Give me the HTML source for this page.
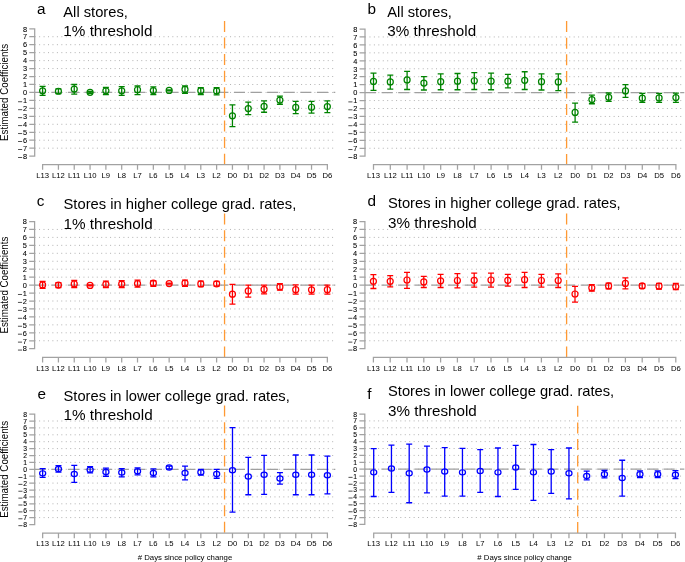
<!DOCTYPE html>
<html><head><meta charset="utf-8"><title>Estimated Coefficients</title>
<style>
html,body{margin:0;padding:0;background:#fff;}
body{width:685px;height:562px;overflow:hidden;}
svg{display:block;will-change:transform;}
text{font-family:"Liberation Sans", sans-serif;fill:#000;}
</style></head><body>
<svg width="685" height="562" viewBox="0 0 685 562">
<rect width="685" height="562" fill="#fff"/>
<path d="M34.7 148.17H335.27M34.7 140.21H335.27M34.7 132.25H335.27M34.7 124.29H335.27M34.7 116.33H335.27M34.7 108.37H335.27M34.7 100.41H335.27M34.7 92.45H335.27M34.7 84.49H335.27M34.7 76.53H335.27M34.7 68.57H335.27M34.7 60.61H335.27M34.7 52.65H335.27M34.7 44.69H335.27M34.7 36.73H335.27" stroke="#b2b2b2" stroke-width="1.0" stroke-dasharray="1.0 3.44" fill="none"/>
<path d="M34.7 92.45H335.27" stroke="#a0a0a0" stroke-width="1.3" stroke-dasharray="11.1 5.5" fill="none"/>
<path d="M224.55 20.9V164.5" stroke="#ff9933" stroke-width="1.3" stroke-dasharray="11.0 5.6" fill="none"/>
<path d="M34.7 28.77V156.13M29.9 156.13H34.7M29.9 148.17H34.7M29.9 140.21H34.7M29.9 132.25H34.7M29.9 124.29H34.7M29.9 116.33H34.7M29.9 108.37H34.7M29.9 100.41H34.7M29.9 92.45H34.7M29.9 84.49H34.7M29.9 76.53H34.7M29.9 68.57H34.7M29.9 60.61H34.7M29.9 52.65H34.7M29.9 44.69H34.7M29.9 36.73H34.7M29.9 28.77H34.7" stroke="#a2a2a2" stroke-width="1.25" fill="none" stroke-linecap="square"/>
<text transform="translate(27 158.89) scale(1 1.05)" font-size="7.4" text-anchor="end" stroke="#000" stroke-width="0.08">8</text>
<rect x="18.04" y="157.06" width="4.1" height="0.85" fill="#333"/>
<text transform="translate(27 150.93) scale(1 1.05)" font-size="7.4" text-anchor="end" stroke="#000" stroke-width="0.08">7</text>
<rect x="18.04" y="149.1" width="4.1" height="0.85" fill="#333"/>
<text transform="translate(27 142.97) scale(1 1.05)" font-size="7.4" text-anchor="end" stroke="#000" stroke-width="0.08">6</text>
<rect x="18.04" y="141.14" width="4.1" height="0.85" fill="#333"/>
<text transform="translate(27 135.01) scale(1 1.05)" font-size="7.4" text-anchor="end" stroke="#000" stroke-width="0.08">5</text>
<rect x="18.04" y="133.18" width="4.1" height="0.85" fill="#333"/>
<text transform="translate(27 127.05) scale(1 1.05)" font-size="7.4" text-anchor="end" stroke="#000" stroke-width="0.08">4</text>
<rect x="18.04" y="125.22" width="4.1" height="0.85" fill="#333"/>
<text transform="translate(27 119.09) scale(1 1.05)" font-size="7.4" text-anchor="end" stroke="#000" stroke-width="0.08">3</text>
<rect x="18.04" y="117.26" width="4.1" height="0.85" fill="#333"/>
<text transform="translate(27 111.13) scale(1 1.05)" font-size="7.4" text-anchor="end" stroke="#000" stroke-width="0.08">2</text>
<rect x="18.04" y="109.3" width="4.1" height="0.85" fill="#333"/>
<text transform="translate(27 103.17) scale(1 1.05)" font-size="7.4" text-anchor="end" stroke="#000" stroke-width="0.08">1</text>
<rect x="18.04" y="101.34" width="4.1" height="0.85" fill="#333"/>
<text transform="translate(27 95.21) scale(1 1.05)" font-size="7.4" text-anchor="end" stroke="#000" stroke-width="0.08">0</text>
<text transform="translate(27 87.25) scale(1 1.05)" font-size="7.4" text-anchor="end" stroke="#000" stroke-width="0.08">1</text>
<text transform="translate(27 79.29) scale(1 1.05)" font-size="7.4" text-anchor="end" stroke="#000" stroke-width="0.08">2</text>
<text transform="translate(27 71.33) scale(1 1.05)" font-size="7.4" text-anchor="end" stroke="#000" stroke-width="0.08">3</text>
<text transform="translate(27 63.37) scale(1 1.05)" font-size="7.4" text-anchor="end" stroke="#000" stroke-width="0.08">4</text>
<text transform="translate(27 55.41) scale(1 1.05)" font-size="7.4" text-anchor="end" stroke="#000" stroke-width="0.08">5</text>
<text transform="translate(27 47.45) scale(1 1.05)" font-size="7.4" text-anchor="end" stroke="#000" stroke-width="0.08">6</text>
<text transform="translate(27 39.49) scale(1 1.05)" font-size="7.4" text-anchor="end" stroke="#000" stroke-width="0.08">7</text>
<text transform="translate(27 31.53) scale(1 1.05)" font-size="7.4" text-anchor="end" stroke="#000" stroke-width="0.08">8</text>
<path d="M42.6 164.5H327.36M42.6 164.5V169M58.42 164.5V169M74.24 164.5V169M90.06 164.5V169M105.88 164.5V169M121.7 164.5V169M137.52 164.5V169M153.34 164.5V169M169.16 164.5V169M184.98 164.5V169M200.8 164.5V169M216.62 164.5V169M232.44 164.5V169M248.26 164.5V169M264.08 164.5V169M279.9 164.5V169M295.72 164.5V169M311.54 164.5V169M327.36 164.5V169" stroke="#a2a2a2" stroke-width="1.25" fill="none" stroke-linecap="square"/>
<text x="42.6" y="178.2" font-size="7.7" text-anchor="middle">L13</text>
<text x="58.42" y="178.2" font-size="7.7" text-anchor="middle">L12</text>
<text x="74.24" y="178.2" font-size="7.7" text-anchor="middle">L11</text>
<text x="90.06" y="178.2" font-size="7.7" text-anchor="middle">L10</text>
<text x="105.88" y="178.2" font-size="7.7" text-anchor="middle">L9</text>
<text x="121.7" y="178.2" font-size="7.7" text-anchor="middle">L8</text>
<text x="137.52" y="178.2" font-size="7.7" text-anchor="middle">L7</text>
<text x="153.34" y="178.2" font-size="7.7" text-anchor="middle">L6</text>
<text x="169.16" y="178.2" font-size="7.7" text-anchor="middle">L5</text>
<text x="184.98" y="178.2" font-size="7.7" text-anchor="middle">L4</text>
<text x="200.8" y="178.2" font-size="7.7" text-anchor="middle">L3</text>
<text x="216.62" y="178.2" font-size="7.7" text-anchor="middle">L2</text>
<text x="232.44" y="178.2" font-size="7.7" text-anchor="middle">D0</text>
<text x="248.26" y="178.2" font-size="7.7" text-anchor="middle">D1</text>
<text x="264.08" y="178.2" font-size="7.7" text-anchor="middle">D2</text>
<text x="279.9" y="178.2" font-size="7.7" text-anchor="middle">D3</text>
<text x="295.72" y="178.2" font-size="7.7" text-anchor="middle">D4</text>
<text x="311.54" y="178.2" font-size="7.7" text-anchor="middle">D5</text>
<text x="327.36" y="178.2" font-size="7.7" text-anchor="middle">D6</text>
<ellipse cx="42.6" cy="90.86" rx="3" ry="3" fill="none" stroke="#008300" stroke-width="1.22"/>
<path d="M42.6 86.4V95.47M39.6 86.4H45.6M39.6 95.47H45.6" stroke="#008300" stroke-width="1.3" fill="none"/>
<ellipse cx="58.42" cy="91.26" rx="3" ry="3" fill="none" stroke="#008300" stroke-width="1.22"/>
<path d="M58.42 88.87V93.64M55.42 88.87H61.42M55.42 93.64H61.42" stroke="#008300" stroke-width="1.3" fill="none"/>
<ellipse cx="74.24" cy="89.03" rx="3" ry="3" fill="none" stroke="#008300" stroke-width="1.22"/>
<path d="M74.24 84.49V94.04M71.24 84.49H77.24M71.24 94.04H77.24" stroke="#008300" stroke-width="1.3" fill="none"/>
<ellipse cx="90.06" cy="92.37" rx="3" ry="3" fill="none" stroke="#008300" stroke-width="1.22"/>
<path d="M90.06 91.49V93.25M87.06 91.49H93.06M87.06 93.25H93.06" stroke="#008300" stroke-width="1.3" fill="none"/>
<ellipse cx="105.88" cy="90.86" rx="3" ry="3" fill="none" stroke="#008300" stroke-width="1.22"/>
<path d="M105.88 87.36V94.6M102.88 87.36H108.88M102.88 94.6H108.88" stroke="#008300" stroke-width="1.3" fill="none"/>
<ellipse cx="121.7" cy="90.86" rx="3" ry="3" fill="none" stroke="#008300" stroke-width="1.22"/>
<path d="M121.7 86.64V95.4M118.7 86.64H124.7M118.7 95.4H124.7" stroke="#008300" stroke-width="1.3" fill="none"/>
<ellipse cx="137.52" cy="89.74" rx="3" ry="3" fill="none" stroke="#008300" stroke-width="1.22"/>
<path d="M137.52 86V94.6M134.52 86H140.52M134.52 94.6H140.52" stroke="#008300" stroke-width="1.3" fill="none"/>
<ellipse cx="153.34" cy="90.54" rx="3" ry="3" fill="none" stroke="#008300" stroke-width="1.22"/>
<path d="M153.34 86.88V94.52M150.34 86.88H156.34M150.34 94.52H156.34" stroke="#008300" stroke-width="1.3" fill="none"/>
<ellipse cx="169.16" cy="90.38" rx="3" ry="3" fill="none" stroke="#008300" stroke-width="1.22"/>
<path d="M169.16 89.98V90.78M166.16 89.98H172.16M166.16 90.78H172.16" stroke="#008300" stroke-width="1.3" fill="none"/>
<ellipse cx="184.98" cy="89.43" rx="3" ry="3" fill="none" stroke="#008300" stroke-width="1.22"/>
<path d="M184.98 86V93.25M181.98 86H187.98M181.98 93.25H187.98" stroke="#008300" stroke-width="1.3" fill="none"/>
<ellipse cx="200.8" cy="90.7" rx="3" ry="3" fill="none" stroke="#008300" stroke-width="1.22"/>
<path d="M200.8 87.75V94.52M197.8 87.75H203.8M197.8 94.52H203.8" stroke="#008300" stroke-width="1.3" fill="none"/>
<ellipse cx="216.62" cy="90.94" rx="3" ry="3" fill="none" stroke="#008300" stroke-width="1.22"/>
<path d="M216.62 87.75V94.84M213.62 87.75H219.62M213.62 94.84H219.62" stroke="#008300" stroke-width="1.3" fill="none"/>
<ellipse cx="232.44" cy="115.77" rx="3" ry="3" fill="none" stroke="#008300" stroke-width="1.22"/>
<path d="M232.44 104.87V126.68M229.44 104.87H235.44M229.44 126.68H235.44" stroke="#008300" stroke-width="1.3" fill="none"/>
<ellipse cx="248.26" cy="108.53" rx="3" ry="3" fill="none" stroke="#008300" stroke-width="1.22"/>
<path d="M248.26 102.16V114.66M245.26 102.16H251.26M245.26 114.66H251.26" stroke="#008300" stroke-width="1.3" fill="none"/>
<ellipse cx="264.08" cy="106.46" rx="3" ry="3" fill="none" stroke="#008300" stroke-width="1.22"/>
<path d="M264.08 100.81V112.27M261.08 100.81H267.08M261.08 112.27H267.08" stroke="#008300" stroke-width="1.3" fill="none"/>
<ellipse cx="279.9" cy="100.09" rx="3" ry="3" fill="none" stroke="#008300" stroke-width="1.22"/>
<path d="M279.9 96.11V104.23M276.9 96.11H282.9M276.9 104.23H282.9" stroke="#008300" stroke-width="1.3" fill="none"/>
<ellipse cx="295.72" cy="107.41" rx="3" ry="3" fill="none" stroke="#008300" stroke-width="1.22"/>
<path d="M295.72 101.29V113.62M292.72 101.29H298.72M292.72 113.62H298.72" stroke="#008300" stroke-width="1.3" fill="none"/>
<ellipse cx="311.54" cy="107.26" rx="3" ry="3" fill="none" stroke="#008300" stroke-width="1.22"/>
<path d="M311.54 101.29V113.07M308.54 101.29H314.54M308.54 113.07H314.54" stroke="#008300" stroke-width="1.3" fill="none"/>
<ellipse cx="327.36" cy="106.62" rx="3" ry="3" fill="none" stroke="#008300" stroke-width="1.22"/>
<path d="M327.36 100.89V112.59M324.36 100.89H330.36M324.36 112.59H330.36" stroke="#008300" stroke-width="1.3" fill="none"/>
<text x="37" y="13.9" font-size="15.3">a</text>
<text x="63.3" y="16.7" font-size="15.0" textLength="64.6" lengthAdjust="spacingAndGlyphs">All stores,</text>
<text x="63.3" y="35.7" font-size="15.0" textLength="89.2" lengthAdjust="spacingAndGlyphs">1% threshold</text>
<text transform="translate(8.2 92.45) rotate(-90)" font-size="10" text-anchor="middle" textLength="97" lengthAdjust="spacingAndGlyphs">Estimated Coefficients</text>
<path d="M365 148.25H684.3M365 140.3H684.3M365 132.35H684.3M365 124.4H684.3M365 116.45H684.3M365 108.5H684.3M365 100.55H684.3M365 92.6H684.3M365 84.65H684.3M365 76.7H684.3M365 68.75H684.3M365 60.8H684.3M365 52.85H684.3M365 44.9H684.3M365 36.95H684.3" stroke="#b2b2b2" stroke-width="1.0" stroke-dasharray="1.0 3.44" fill="none"/>
<path d="M365 92.6H684.3" stroke="#a0a0a0" stroke-width="1.3" stroke-dasharray="11.1 5.5" fill="none"/>
<path d="M566.6 21.1V164.7" stroke="#ff9933" stroke-width="1.3" stroke-dasharray="11.0 5.6" fill="none"/>
<path d="M365 29V156.2M360.2 156.2H365M360.2 148.25H365M360.2 140.3H365M360.2 132.35H365M360.2 124.4H365M360.2 116.45H365M360.2 108.5H365M360.2 100.55H365M360.2 92.6H365M360.2 84.65H365M360.2 76.7H365M360.2 68.75H365M360.2 60.8H365M360.2 52.85H365M360.2 44.9H365M360.2 36.95H365M360.2 29H365" stroke="#a2a2a2" stroke-width="1.25" fill="none" stroke-linecap="square"/>
<text transform="translate(357.3 158.96) scale(1 1.05)" font-size="7.4" text-anchor="end" stroke="#000" stroke-width="0.08">8</text>
<rect x="348.34" y="157.13" width="4.1" height="0.85" fill="#333"/>
<text transform="translate(357.3 151.01) scale(1 1.05)" font-size="7.4" text-anchor="end" stroke="#000" stroke-width="0.08">7</text>
<rect x="348.34" y="149.18" width="4.1" height="0.85" fill="#333"/>
<text transform="translate(357.3 143.06) scale(1 1.05)" font-size="7.4" text-anchor="end" stroke="#000" stroke-width="0.08">6</text>
<rect x="348.34" y="141.23" width="4.1" height="0.85" fill="#333"/>
<text transform="translate(357.3 135.11) scale(1 1.05)" font-size="7.4" text-anchor="end" stroke="#000" stroke-width="0.08">5</text>
<rect x="348.34" y="133.28" width="4.1" height="0.85" fill="#333"/>
<text transform="translate(357.3 127.16) scale(1 1.05)" font-size="7.4" text-anchor="end" stroke="#000" stroke-width="0.08">4</text>
<rect x="348.34" y="125.33" width="4.1" height="0.85" fill="#333"/>
<text transform="translate(357.3 119.21) scale(1 1.05)" font-size="7.4" text-anchor="end" stroke="#000" stroke-width="0.08">3</text>
<rect x="348.34" y="117.38" width="4.1" height="0.85" fill="#333"/>
<text transform="translate(357.3 111.26) scale(1 1.05)" font-size="7.4" text-anchor="end" stroke="#000" stroke-width="0.08">2</text>
<rect x="348.34" y="109.43" width="4.1" height="0.85" fill="#333"/>
<text transform="translate(357.3 103.31) scale(1 1.05)" font-size="7.4" text-anchor="end" stroke="#000" stroke-width="0.08">1</text>
<rect x="348.34" y="101.48" width="4.1" height="0.85" fill="#333"/>
<text transform="translate(357.3 95.36) scale(1 1.05)" font-size="7.4" text-anchor="end" stroke="#000" stroke-width="0.08">0</text>
<text transform="translate(357.3 87.41) scale(1 1.05)" font-size="7.4" text-anchor="end" stroke="#000" stroke-width="0.08">1</text>
<text transform="translate(357.3 79.46) scale(1 1.05)" font-size="7.4" text-anchor="end" stroke="#000" stroke-width="0.08">2</text>
<text transform="translate(357.3 71.51) scale(1 1.05)" font-size="7.4" text-anchor="end" stroke="#000" stroke-width="0.08">3</text>
<text transform="translate(357.3 63.56) scale(1 1.05)" font-size="7.4" text-anchor="end" stroke="#000" stroke-width="0.08">4</text>
<text transform="translate(357.3 55.61) scale(1 1.05)" font-size="7.4" text-anchor="end" stroke="#000" stroke-width="0.08">5</text>
<text transform="translate(357.3 47.66) scale(1 1.05)" font-size="7.4" text-anchor="end" stroke="#000" stroke-width="0.08">6</text>
<text transform="translate(357.3 39.71) scale(1 1.05)" font-size="7.4" text-anchor="end" stroke="#000" stroke-width="0.08">7</text>
<text transform="translate(357.3 31.76) scale(1 1.05)" font-size="7.4" text-anchor="end" stroke="#000" stroke-width="0.08">8</text>
<path d="M373.5 164.7H675.9M373.5 164.7V169.2M390.3 164.7V169.2M407.1 164.7V169.2M423.9 164.7V169.2M440.7 164.7V169.2M457.5 164.7V169.2M474.3 164.7V169.2M491.1 164.7V169.2M507.9 164.7V169.2M524.7 164.7V169.2M541.5 164.7V169.2M558.3 164.7V169.2M575.1 164.7V169.2M591.9 164.7V169.2M608.7 164.7V169.2M625.5 164.7V169.2M642.3 164.7V169.2M659.1 164.7V169.2M675.9 164.7V169.2" stroke="#a2a2a2" stroke-width="1.25" fill="none" stroke-linecap="square"/>
<text x="373.5" y="178.4" font-size="7.7" text-anchor="middle">L13</text>
<text x="390.3" y="178.4" font-size="7.7" text-anchor="middle">L12</text>
<text x="407.1" y="178.4" font-size="7.7" text-anchor="middle">L11</text>
<text x="423.9" y="178.4" font-size="7.7" text-anchor="middle">L10</text>
<text x="440.7" y="178.4" font-size="7.7" text-anchor="middle">L9</text>
<text x="457.5" y="178.4" font-size="7.7" text-anchor="middle">L8</text>
<text x="474.3" y="178.4" font-size="7.7" text-anchor="middle">L7</text>
<text x="491.1" y="178.4" font-size="7.7" text-anchor="middle">L6</text>
<text x="507.9" y="178.4" font-size="7.7" text-anchor="middle">L5</text>
<text x="524.7" y="178.4" font-size="7.7" text-anchor="middle">L4</text>
<text x="541.5" y="178.4" font-size="7.7" text-anchor="middle">L3</text>
<text x="558.3" y="178.4" font-size="7.7" text-anchor="middle">L2</text>
<text x="575.1" y="178.4" font-size="7.7" text-anchor="middle">D0</text>
<text x="591.9" y="178.4" font-size="7.7" text-anchor="middle">D1</text>
<text x="608.7" y="178.4" font-size="7.7" text-anchor="middle">D2</text>
<text x="625.5" y="178.4" font-size="7.7" text-anchor="middle">D3</text>
<text x="642.3" y="178.4" font-size="7.7" text-anchor="middle">D4</text>
<text x="659.1" y="178.4" font-size="7.7" text-anchor="middle">D5</text>
<text x="675.9" y="178.4" font-size="7.7" text-anchor="middle">D6</text>
<ellipse cx="373.5" cy="81.47" rx="3" ry="3" fill="none" stroke="#008300" stroke-width="1.22"/>
<path d="M373.5 73.04V90.29M370.5 73.04H376.5M370.5 90.29H376.5" stroke="#008300" stroke-width="1.3" fill="none"/>
<ellipse cx="390.3" cy="81.95" rx="3" ry="3" fill="none" stroke="#008300" stroke-width="1.22"/>
<path d="M390.3 75.19V89.18M387.3 75.19H393.3M387.3 89.18H393.3" stroke="#008300" stroke-width="1.3" fill="none"/>
<ellipse cx="407.1" cy="79.96" rx="3" ry="3" fill="none" stroke="#008300" stroke-width="1.22"/>
<path d="M407.1 71.45V89.5M404.1 71.45H410.1M404.1 89.5H410.1" stroke="#008300" stroke-width="1.3" fill="none"/>
<ellipse cx="423.9" cy="83.06" rx="3" ry="3" fill="none" stroke="#008300" stroke-width="1.22"/>
<path d="M423.9 76.7V89.98M420.9 76.7H426.9M420.9 89.98H426.9" stroke="#008300" stroke-width="1.3" fill="none"/>
<ellipse cx="440.7" cy="81.63" rx="3" ry="3" fill="none" stroke="#008300" stroke-width="1.22"/>
<path d="M440.7 73.92V89.74M437.7 73.92H443.7M437.7 89.74H443.7" stroke="#008300" stroke-width="1.3" fill="none"/>
<ellipse cx="457.5" cy="81.15" rx="3" ry="3" fill="none" stroke="#008300" stroke-width="1.22"/>
<path d="M457.5 73.52V89.74M454.5 73.52H460.5M454.5 89.74H460.5" stroke="#008300" stroke-width="1.3" fill="none"/>
<ellipse cx="474.3" cy="80.75" rx="3" ry="3" fill="none" stroke="#008300" stroke-width="1.22"/>
<path d="M474.3 72.57V89.5M471.3 72.57H477.3M471.3 89.5H477.3" stroke="#008300" stroke-width="1.3" fill="none"/>
<ellipse cx="491.1" cy="81.15" rx="3" ry="3" fill="none" stroke="#008300" stroke-width="1.22"/>
<path d="M491.1 73.04V89.74M488.1 73.04H494.1M488.1 89.74H494.1" stroke="#008300" stroke-width="1.3" fill="none"/>
<ellipse cx="507.9" cy="81.15" rx="3" ry="3" fill="none" stroke="#008300" stroke-width="1.22"/>
<path d="M507.9 74.39V87.91M504.9 74.39H510.9M504.9 87.91H510.9" stroke="#008300" stroke-width="1.3" fill="none"/>
<ellipse cx="524.7" cy="80.36" rx="3" ry="3" fill="none" stroke="#008300" stroke-width="1.22"/>
<path d="M524.7 71.77V89.5M521.7 71.77H527.7M521.7 89.5H527.7" stroke="#008300" stroke-width="1.3" fill="none"/>
<ellipse cx="541.5" cy="81.63" rx="3" ry="3" fill="none" stroke="#008300" stroke-width="1.22"/>
<path d="M541.5 73.92V89.98M538.5 73.92H544.5M538.5 89.98H544.5" stroke="#008300" stroke-width="1.3" fill="none"/>
<ellipse cx="558.3" cy="81.95" rx="3" ry="3" fill="none" stroke="#008300" stroke-width="1.22"/>
<path d="M558.3 73.92V90.53M555.3 73.92H561.3M555.3 90.53H561.3" stroke="#008300" stroke-width="1.3" fill="none"/>
<ellipse cx="575.1" cy="112.47" rx="3" ry="3" fill="none" stroke="#008300" stroke-width="1.22"/>
<path d="M575.1 103.09V122.17M572.1 103.09H578.1M572.1 122.17H578.1" stroke="#008300" stroke-width="1.3" fill="none"/>
<ellipse cx="591.9" cy="99.6" rx="3" ry="3" fill="none" stroke="#008300" stroke-width="1.22"/>
<path d="M591.9 95.22V103.73M588.9 95.22H594.9M588.9 103.73H594.9" stroke="#008300" stroke-width="1.3" fill="none"/>
<ellipse cx="608.7" cy="97.29" rx="3" ry="3" fill="none" stroke="#008300" stroke-width="1.22"/>
<path d="M608.7 93V101.42M605.7 93H611.7M605.7 101.42H611.7" stroke="#008300" stroke-width="1.3" fill="none"/>
<ellipse cx="625.5" cy="90.93" rx="3" ry="3" fill="none" stroke="#008300" stroke-width="1.22"/>
<path d="M625.5 84.65V97.29M622.5 84.65H628.5M622.5 97.29H628.5" stroke="#008300" stroke-width="1.3" fill="none"/>
<ellipse cx="642.3" cy="98.16" rx="3" ry="3" fill="none" stroke="#008300" stroke-width="1.22"/>
<path d="M642.3 93.47V102.3M639.3 93.47H645.3M639.3 102.3H645.3" stroke="#008300" stroke-width="1.3" fill="none"/>
<ellipse cx="659.1" cy="97.93" rx="3" ry="3" fill="none" stroke="#008300" stroke-width="1.22"/>
<path d="M659.1 93.47V102.3M656.1 93.47H662.1M656.1 102.3H662.1" stroke="#008300" stroke-width="1.3" fill="none"/>
<ellipse cx="675.9" cy="97.53" rx="3" ry="3" fill="none" stroke="#008300" stroke-width="1.22"/>
<path d="M675.9 93.08V102.3M672.9 93.08H678.9M672.9 102.3H678.9" stroke="#008300" stroke-width="1.3" fill="none"/>
<text x="367.5" y="14" font-size="15.3">b</text>
<text x="387.3" y="16.6" font-size="15.0" textLength="64.6" lengthAdjust="spacingAndGlyphs">All stores,</text>
<text x="387.3" y="35.7" font-size="15.0" textLength="88.8" lengthAdjust="spacingAndGlyphs">3% threshold</text>
<path d="M34.6 340.75H335.27M34.6 332.8H335.27M34.6 324.85H335.27M34.6 316.9H335.27M34.6 308.95H335.27M34.6 301H335.27M34.6 293.05H335.27M34.6 285.1H335.27M34.6 277.15H335.27M34.6 269.2H335.27M34.6 261.25H335.27M34.6 253.3H335.27M34.6 245.35H335.27M34.6 237.4H335.27M34.6 229.45H335.27" stroke="#b2b2b2" stroke-width="1.0" stroke-dasharray="1.0 3.44" fill="none"/>
<path d="M34.6 285.1H335.27" stroke="#a0a0a0" stroke-width="1.3" stroke-dasharray="11.1 5.5" fill="none"/>
<path d="M224.55 213.6V357.4" stroke="#ff9933" stroke-width="1.3" stroke-dasharray="11.0 5.6" fill="none"/>
<path d="M34.6 221.5V348.7M29.8 348.7H34.6M29.8 340.75H34.6M29.8 332.8H34.6M29.8 324.85H34.6M29.8 316.9H34.6M29.8 308.95H34.6M29.8 301H34.6M29.8 293.05H34.6M29.8 285.1H34.6M29.8 277.15H34.6M29.8 269.2H34.6M29.8 261.25H34.6M29.8 253.3H34.6M29.8 245.35H34.6M29.8 237.4H34.6M29.8 229.45H34.6M29.8 221.5H34.6" stroke="#a2a2a2" stroke-width="1.25" fill="none" stroke-linecap="square"/>
<text transform="translate(26.9 351.46) scale(1 1.05)" font-size="7.4" text-anchor="end" stroke="#000" stroke-width="0.08">8</text>
<rect x="17.94" y="349.63" width="4.1" height="0.85" fill="#333"/>
<text transform="translate(26.9 343.51) scale(1 1.05)" font-size="7.4" text-anchor="end" stroke="#000" stroke-width="0.08">7</text>
<rect x="17.94" y="341.68" width="4.1" height="0.85" fill="#333"/>
<text transform="translate(26.9 335.56) scale(1 1.05)" font-size="7.4" text-anchor="end" stroke="#000" stroke-width="0.08">6</text>
<rect x="17.94" y="333.73" width="4.1" height="0.85" fill="#333"/>
<text transform="translate(26.9 327.61) scale(1 1.05)" font-size="7.4" text-anchor="end" stroke="#000" stroke-width="0.08">5</text>
<rect x="17.94" y="325.78" width="4.1" height="0.85" fill="#333"/>
<text transform="translate(26.9 319.66) scale(1 1.05)" font-size="7.4" text-anchor="end" stroke="#000" stroke-width="0.08">4</text>
<rect x="17.94" y="317.83" width="4.1" height="0.85" fill="#333"/>
<text transform="translate(26.9 311.71) scale(1 1.05)" font-size="7.4" text-anchor="end" stroke="#000" stroke-width="0.08">3</text>
<rect x="17.94" y="309.88" width="4.1" height="0.85" fill="#333"/>
<text transform="translate(26.9 303.76) scale(1 1.05)" font-size="7.4" text-anchor="end" stroke="#000" stroke-width="0.08">2</text>
<rect x="17.94" y="301.93" width="4.1" height="0.85" fill="#333"/>
<text transform="translate(26.9 295.81) scale(1 1.05)" font-size="7.4" text-anchor="end" stroke="#000" stroke-width="0.08">1</text>
<rect x="17.94" y="293.98" width="4.1" height="0.85" fill="#333"/>
<text transform="translate(26.9 287.86) scale(1 1.05)" font-size="7.4" text-anchor="end" stroke="#000" stroke-width="0.08">0</text>
<text transform="translate(26.9 279.91) scale(1 1.05)" font-size="7.4" text-anchor="end" stroke="#000" stroke-width="0.08">1</text>
<text transform="translate(26.9 271.96) scale(1 1.05)" font-size="7.4" text-anchor="end" stroke="#000" stroke-width="0.08">2</text>
<text transform="translate(26.9 264.01) scale(1 1.05)" font-size="7.4" text-anchor="end" stroke="#000" stroke-width="0.08">3</text>
<text transform="translate(26.9 256.06) scale(1 1.05)" font-size="7.4" text-anchor="end" stroke="#000" stroke-width="0.08">4</text>
<text transform="translate(26.9 248.11) scale(1 1.05)" font-size="7.4" text-anchor="end" stroke="#000" stroke-width="0.08">5</text>
<text transform="translate(26.9 240.16) scale(1 1.05)" font-size="7.4" text-anchor="end" stroke="#000" stroke-width="0.08">6</text>
<text transform="translate(26.9 232.21) scale(1 1.05)" font-size="7.4" text-anchor="end" stroke="#000" stroke-width="0.08">7</text>
<text transform="translate(26.9 224.26) scale(1 1.05)" font-size="7.4" text-anchor="end" stroke="#000" stroke-width="0.08">8</text>
<path d="M42.6 357.4H327.36M42.6 357.4V361.9M58.42 357.4V361.9M74.24 357.4V361.9M90.06 357.4V361.9M105.88 357.4V361.9M121.7 357.4V361.9M137.52 357.4V361.9M153.34 357.4V361.9M169.16 357.4V361.9M184.98 357.4V361.9M200.8 357.4V361.9M216.62 357.4V361.9M232.44 357.4V361.9M248.26 357.4V361.9M264.08 357.4V361.9M279.9 357.4V361.9M295.72 357.4V361.9M311.54 357.4V361.9M327.36 357.4V361.9" stroke="#a2a2a2" stroke-width="1.25" fill="none" stroke-linecap="square"/>
<text x="42.6" y="370.6" font-size="7.7" text-anchor="middle">L13</text>
<text x="58.42" y="370.6" font-size="7.7" text-anchor="middle">L12</text>
<text x="74.24" y="370.6" font-size="7.7" text-anchor="middle">L11</text>
<text x="90.06" y="370.6" font-size="7.7" text-anchor="middle">L10</text>
<text x="105.88" y="370.6" font-size="7.7" text-anchor="middle">L9</text>
<text x="121.7" y="370.6" font-size="7.7" text-anchor="middle">L8</text>
<text x="137.52" y="370.6" font-size="7.7" text-anchor="middle">L7</text>
<text x="153.34" y="370.6" font-size="7.7" text-anchor="middle">L6</text>
<text x="169.16" y="370.6" font-size="7.7" text-anchor="middle">L5</text>
<text x="184.98" y="370.6" font-size="7.7" text-anchor="middle">L4</text>
<text x="200.8" y="370.6" font-size="7.7" text-anchor="middle">L3</text>
<text x="216.62" y="370.6" font-size="7.7" text-anchor="middle">L2</text>
<text x="232.44" y="370.6" font-size="7.7" text-anchor="middle">D0</text>
<text x="248.26" y="370.6" font-size="7.7" text-anchor="middle">D1</text>
<text x="264.08" y="370.6" font-size="7.7" text-anchor="middle">D2</text>
<text x="279.9" y="370.6" font-size="7.7" text-anchor="middle">D3</text>
<text x="295.72" y="370.6" font-size="7.7" text-anchor="middle">D4</text>
<text x="311.54" y="370.6" font-size="7.7" text-anchor="middle">D5</text>
<text x="327.36" y="370.6" font-size="7.7" text-anchor="middle">D6</text>
<ellipse cx="42.6" cy="284.94" rx="3" ry="3" fill="none" stroke="#ff0000" stroke-width="1.22"/>
<path d="M42.6 281.44V288.36M39.6 281.44H45.6M39.6 288.36H45.6" stroke="#ff0000" stroke-width="1.3" fill="none"/>
<ellipse cx="58.42" cy="285.1" rx="3" ry="3" fill="none" stroke="#ff0000" stroke-width="1.22"/>
<path d="M58.42 282.72V287.49M55.42 282.72H61.42M55.42 287.49H61.42" stroke="#ff0000" stroke-width="1.3" fill="none"/>
<ellipse cx="74.24" cy="283.91" rx="3" ry="3" fill="none" stroke="#ff0000" stroke-width="1.22"/>
<path d="M74.24 280.33V287.49M71.24 280.33H77.24M71.24 287.49H77.24" stroke="#ff0000" stroke-width="1.3" fill="none"/>
<ellipse cx="90.06" cy="285.42" rx="3" ry="3" fill="none" stroke="#ff0000" stroke-width="1.22"/>
<path d="M90.06 285.02V285.82M87.06 285.02H93.06M87.06 285.82H93.06" stroke="#ff0000" stroke-width="1.3" fill="none"/>
<ellipse cx="105.88" cy="284.31" rx="3" ry="3" fill="none" stroke="#ff0000" stroke-width="1.22"/>
<path d="M105.88 281.12V287.64M102.88 281.12H108.88M102.88 287.64H108.88" stroke="#ff0000" stroke-width="1.3" fill="none"/>
<ellipse cx="121.7" cy="284.07" rx="3" ry="3" fill="none" stroke="#ff0000" stroke-width="1.22"/>
<path d="M121.7 280.73V287.64M118.7 280.73H124.7M118.7 287.64H124.7" stroke="#ff0000" stroke-width="1.3" fill="none"/>
<ellipse cx="137.52" cy="283.59" rx="3" ry="3" fill="none" stroke="#ff0000" stroke-width="1.22"/>
<path d="M137.52 280.17V287.17M134.52 280.17H140.52M134.52 287.17H140.52" stroke="#ff0000" stroke-width="1.3" fill="none"/>
<ellipse cx="153.34" cy="283.19" rx="3" ry="3" fill="none" stroke="#ff0000" stroke-width="1.22"/>
<path d="M153.34 280.73V286.45M150.34 280.73H156.34M150.34 286.45H156.34" stroke="#ff0000" stroke-width="1.3" fill="none"/>
<ellipse cx="169.16" cy="283.59" rx="3" ry="3" fill="none" stroke="#ff0000" stroke-width="1.22"/>
<path d="M169.16 283.19V283.99M166.16 283.19H172.16M166.16 283.99H172.16" stroke="#ff0000" stroke-width="1.3" fill="none"/>
<ellipse cx="184.98" cy="283.03" rx="3" ry="3" fill="none" stroke="#ff0000" stroke-width="1.22"/>
<path d="M184.98 280.09V286.45M181.98 280.09H187.98M181.98 286.45H187.98" stroke="#ff0000" stroke-width="1.3" fill="none"/>
<ellipse cx="200.8" cy="283.91" rx="3" ry="3" fill="none" stroke="#ff0000" stroke-width="1.22"/>
<path d="M200.8 281.12V286.69M197.8 281.12H203.8M197.8 286.69H203.8" stroke="#ff0000" stroke-width="1.3" fill="none"/>
<ellipse cx="216.62" cy="283.83" rx="3" ry="3" fill="none" stroke="#ff0000" stroke-width="1.22"/>
<path d="M216.62 281.44V286.21M213.62 281.44H219.62M213.62 286.21H219.62" stroke="#ff0000" stroke-width="1.3" fill="none"/>
<ellipse cx="232.44" cy="294.16" rx="3" ry="3" fill="none" stroke="#ff0000" stroke-width="1.22"/>
<path d="M232.44 284.46V304.1M229.44 284.46H235.44M229.44 304.1H235.44" stroke="#ff0000" stroke-width="1.3" fill="none"/>
<ellipse cx="248.26" cy="290.98" rx="3" ry="3" fill="none" stroke="#ff0000" stroke-width="1.22"/>
<path d="M248.26 285.1V297.03M245.26 285.1H251.26M245.26 297.03H251.26" stroke="#ff0000" stroke-width="1.3" fill="none"/>
<ellipse cx="264.08" cy="289.39" rx="3" ry="3" fill="none" stroke="#ff0000" stroke-width="1.22"/>
<path d="M264.08 285.1V293.85M261.08 285.1H267.08M261.08 293.85H267.08" stroke="#ff0000" stroke-width="1.3" fill="none"/>
<ellipse cx="279.9" cy="286.93" rx="3" ry="3" fill="none" stroke="#ff0000" stroke-width="1.22"/>
<path d="M279.9 283.75V290.11M276.9 283.75H282.9M276.9 290.11H282.9" stroke="#ff0000" stroke-width="1.3" fill="none"/>
<ellipse cx="295.72" cy="289.71" rx="3" ry="3" fill="none" stroke="#ff0000" stroke-width="1.22"/>
<path d="M295.72 284.86V294.16M292.72 284.86H298.72M292.72 294.16H298.72" stroke="#ff0000" stroke-width="1.3" fill="none"/>
<ellipse cx="311.54" cy="289.87" rx="3" ry="3" fill="none" stroke="#ff0000" stroke-width="1.22"/>
<path d="M311.54 285.1V294.16M308.54 285.1H314.54M308.54 294.16H314.54" stroke="#ff0000" stroke-width="1.3" fill="none"/>
<ellipse cx="327.36" cy="289.71" rx="3" ry="3" fill="none" stroke="#ff0000" stroke-width="1.22"/>
<path d="M327.36 285.1V294.16M324.36 285.1H330.36M324.36 294.16H330.36" stroke="#ff0000" stroke-width="1.3" fill="none"/>
<text x="36.8" y="206.3" font-size="15.3">c</text>
<text x="63.5" y="208.9" font-size="15.0" textLength="232.8" lengthAdjust="spacingAndGlyphs">Stores in higher college grad. rates,</text>
<text x="63.5" y="228.6" font-size="15.0" textLength="89.2" lengthAdjust="spacingAndGlyphs">1% threshold</text>
<text transform="translate(8.2 285.1) rotate(-90)" font-size="10" text-anchor="middle" textLength="97" lengthAdjust="spacingAndGlyphs">Estimated Coefficients</text>
<path d="M364.9 340.75H684.2M364.9 332.8H684.2M364.9 324.85H684.2M364.9 316.9H684.2M364.9 308.95H684.2M364.9 301H684.2M364.9 293.05H684.2M364.9 285.1H684.2M364.9 277.15H684.2M364.9 269.2H684.2M364.9 261.25H684.2M364.9 253.3H684.2M364.9 245.35H684.2M364.9 237.4H684.2M364.9 229.45H684.2" stroke="#b2b2b2" stroke-width="1.0" stroke-dasharray="1.0 3.44" fill="none"/>
<path d="M364.9 285.1H684.2" stroke="#a0a0a0" stroke-width="1.3" stroke-dasharray="11.1 5.5" fill="none"/>
<path d="M566.6 213.6V357.4" stroke="#ff9933" stroke-width="1.3" stroke-dasharray="11.0 5.6" fill="none"/>
<path d="M364.9 221.5V348.7M360.1 348.7H364.9M360.1 340.75H364.9M360.1 332.8H364.9M360.1 324.85H364.9M360.1 316.9H364.9M360.1 308.95H364.9M360.1 301H364.9M360.1 293.05H364.9M360.1 285.1H364.9M360.1 277.15H364.9M360.1 269.2H364.9M360.1 261.25H364.9M360.1 253.3H364.9M360.1 245.35H364.9M360.1 237.4H364.9M360.1 229.45H364.9M360.1 221.5H364.9" stroke="#a2a2a2" stroke-width="1.25" fill="none" stroke-linecap="square"/>
<text transform="translate(357.2 351.46) scale(1 1.05)" font-size="7.4" text-anchor="end" stroke="#000" stroke-width="0.08">8</text>
<rect x="348.24" y="349.63" width="4.1" height="0.85" fill="#333"/>
<text transform="translate(357.2 343.51) scale(1 1.05)" font-size="7.4" text-anchor="end" stroke="#000" stroke-width="0.08">7</text>
<rect x="348.24" y="341.68" width="4.1" height="0.85" fill="#333"/>
<text transform="translate(357.2 335.56) scale(1 1.05)" font-size="7.4" text-anchor="end" stroke="#000" stroke-width="0.08">6</text>
<rect x="348.24" y="333.73" width="4.1" height="0.85" fill="#333"/>
<text transform="translate(357.2 327.61) scale(1 1.05)" font-size="7.4" text-anchor="end" stroke="#000" stroke-width="0.08">5</text>
<rect x="348.24" y="325.78" width="4.1" height="0.85" fill="#333"/>
<text transform="translate(357.2 319.66) scale(1 1.05)" font-size="7.4" text-anchor="end" stroke="#000" stroke-width="0.08">4</text>
<rect x="348.24" y="317.83" width="4.1" height="0.85" fill="#333"/>
<text transform="translate(357.2 311.71) scale(1 1.05)" font-size="7.4" text-anchor="end" stroke="#000" stroke-width="0.08">3</text>
<rect x="348.24" y="309.88" width="4.1" height="0.85" fill="#333"/>
<text transform="translate(357.2 303.76) scale(1 1.05)" font-size="7.4" text-anchor="end" stroke="#000" stroke-width="0.08">2</text>
<rect x="348.24" y="301.93" width="4.1" height="0.85" fill="#333"/>
<text transform="translate(357.2 295.81) scale(1 1.05)" font-size="7.4" text-anchor="end" stroke="#000" stroke-width="0.08">1</text>
<rect x="348.24" y="293.98" width="4.1" height="0.85" fill="#333"/>
<text transform="translate(357.2 287.86) scale(1 1.05)" font-size="7.4" text-anchor="end" stroke="#000" stroke-width="0.08">0</text>
<text transform="translate(357.2 279.91) scale(1 1.05)" font-size="7.4" text-anchor="end" stroke="#000" stroke-width="0.08">1</text>
<text transform="translate(357.2 271.96) scale(1 1.05)" font-size="7.4" text-anchor="end" stroke="#000" stroke-width="0.08">2</text>
<text transform="translate(357.2 264.01) scale(1 1.05)" font-size="7.4" text-anchor="end" stroke="#000" stroke-width="0.08">3</text>
<text transform="translate(357.2 256.06) scale(1 1.05)" font-size="7.4" text-anchor="end" stroke="#000" stroke-width="0.08">4</text>
<text transform="translate(357.2 248.11) scale(1 1.05)" font-size="7.4" text-anchor="end" stroke="#000" stroke-width="0.08">5</text>
<text transform="translate(357.2 240.16) scale(1 1.05)" font-size="7.4" text-anchor="end" stroke="#000" stroke-width="0.08">6</text>
<text transform="translate(357.2 232.21) scale(1 1.05)" font-size="7.4" text-anchor="end" stroke="#000" stroke-width="0.08">7</text>
<text transform="translate(357.2 224.26) scale(1 1.05)" font-size="7.4" text-anchor="end" stroke="#000" stroke-width="0.08">8</text>
<path d="M373.4 357.4H675.8M373.4 357.4V361.9M390.2 357.4V361.9M407 357.4V361.9M423.8 357.4V361.9M440.6 357.4V361.9M457.4 357.4V361.9M474.2 357.4V361.9M491 357.4V361.9M507.8 357.4V361.9M524.6 357.4V361.9M541.4 357.4V361.9M558.2 357.4V361.9M575 357.4V361.9M591.8 357.4V361.9M608.6 357.4V361.9M625.4 357.4V361.9M642.2 357.4V361.9M659 357.4V361.9M675.8 357.4V361.9" stroke="#a2a2a2" stroke-width="1.25" fill="none" stroke-linecap="square"/>
<text x="373.4" y="370.6" font-size="7.7" text-anchor="middle">L13</text>
<text x="390.2" y="370.6" font-size="7.7" text-anchor="middle">L12</text>
<text x="407" y="370.6" font-size="7.7" text-anchor="middle">L11</text>
<text x="423.8" y="370.6" font-size="7.7" text-anchor="middle">L10</text>
<text x="440.6" y="370.6" font-size="7.7" text-anchor="middle">L9</text>
<text x="457.4" y="370.6" font-size="7.7" text-anchor="middle">L8</text>
<text x="474.2" y="370.6" font-size="7.7" text-anchor="middle">L7</text>
<text x="491" y="370.6" font-size="7.7" text-anchor="middle">L6</text>
<text x="507.8" y="370.6" font-size="7.7" text-anchor="middle">L5</text>
<text x="524.6" y="370.6" font-size="7.7" text-anchor="middle">L4</text>
<text x="541.4" y="370.6" font-size="7.7" text-anchor="middle">L3</text>
<text x="558.2" y="370.6" font-size="7.7" text-anchor="middle">L2</text>
<text x="575" y="370.6" font-size="7.7" text-anchor="middle">D0</text>
<text x="591.8" y="370.6" font-size="7.7" text-anchor="middle">D1</text>
<text x="608.6" y="370.6" font-size="7.7" text-anchor="middle">D2</text>
<text x="625.4" y="370.6" font-size="7.7" text-anchor="middle">D3</text>
<text x="642.2" y="370.6" font-size="7.7" text-anchor="middle">D4</text>
<text x="659" y="370.6" font-size="7.7" text-anchor="middle">D5</text>
<text x="675.8" y="370.6" font-size="7.7" text-anchor="middle">D6</text>
<ellipse cx="373.4" cy="281.28" rx="3" ry="3" fill="none" stroke="#ff0000" stroke-width="1.22"/>
<path d="M373.4 274.69V288.52M370.4 274.69H376.4M370.4 288.52H376.4" stroke="#ff0000" stroke-width="1.3" fill="none"/>
<ellipse cx="390.2" cy="281.28" rx="3" ry="3" fill="none" stroke="#ff0000" stroke-width="1.22"/>
<path d="M390.2 275.56V286.93M387.2 275.56H393.2M387.2 286.93H393.2" stroke="#ff0000" stroke-width="1.3" fill="none"/>
<ellipse cx="407" cy="280.01" rx="3" ry="3" fill="none" stroke="#ff0000" stroke-width="1.22"/>
<path d="M407 272.38V288.28M404 272.38H410M404 288.28H410" stroke="#ff0000" stroke-width="1.3" fill="none"/>
<ellipse cx="423.8" cy="281.92" rx="3" ry="3" fill="none" stroke="#ff0000" stroke-width="1.22"/>
<path d="M423.8 276.36V287.49M420.8 276.36H426.8M420.8 287.49H426.8" stroke="#ff0000" stroke-width="1.3" fill="none"/>
<ellipse cx="440.6" cy="280.81" rx="3" ry="3" fill="none" stroke="#ff0000" stroke-width="1.22"/>
<path d="M440.6 274.45V287.49M437.6 274.45H443.6M437.6 287.49H443.6" stroke="#ff0000" stroke-width="1.3" fill="none"/>
<ellipse cx="457.4" cy="280.49" rx="3" ry="3" fill="none" stroke="#ff0000" stroke-width="1.22"/>
<path d="M457.4 273.57V287.96M454.4 273.57H460.4M454.4 287.96H460.4" stroke="#ff0000" stroke-width="1.3" fill="none"/>
<ellipse cx="474.2" cy="280.33" rx="3" ry="3" fill="none" stroke="#ff0000" stroke-width="1.22"/>
<path d="M474.2 273.18V287.17M471.2 273.18H477.2M471.2 287.17H477.2" stroke="#ff0000" stroke-width="1.3" fill="none"/>
<ellipse cx="491" cy="280.01" rx="3" ry="3" fill="none" stroke="#ff0000" stroke-width="1.22"/>
<path d="M491 273.18V287.17M488 273.18H494M488 287.17H494" stroke="#ff0000" stroke-width="1.3" fill="none"/>
<ellipse cx="507.8" cy="280.33" rx="3" ry="3" fill="none" stroke="#ff0000" stroke-width="1.22"/>
<path d="M507.8 274.37V286.05M504.8 274.37H510.8M504.8 286.05H510.8" stroke="#ff0000" stroke-width="1.3" fill="none"/>
<ellipse cx="524.6" cy="279.69" rx="3" ry="3" fill="none" stroke="#ff0000" stroke-width="1.22"/>
<path d="M524.6 272.38V287.49M521.6 272.38H527.6M521.6 287.49H527.6" stroke="#ff0000" stroke-width="1.3" fill="none"/>
<ellipse cx="541.4" cy="280.49" rx="3" ry="3" fill="none" stroke="#ff0000" stroke-width="1.22"/>
<path d="M541.4 274.37V287.17M538.4 274.37H544.4M538.4 287.17H544.4" stroke="#ff0000" stroke-width="1.3" fill="none"/>
<ellipse cx="558.2" cy="280.49" rx="3" ry="3" fill="none" stroke="#ff0000" stroke-width="1.22"/>
<path d="M558.2 273.97V287.49M555.2 273.97H561.2M555.2 287.49H561.2" stroke="#ff0000" stroke-width="1.3" fill="none"/>
<ellipse cx="575" cy="294" rx="3" ry="3" fill="none" stroke="#ff0000" stroke-width="1.22"/>
<path d="M575 286.45V302.03M572 286.45H578M572 302.03H578" stroke="#ff0000" stroke-width="1.3" fill="none"/>
<ellipse cx="591.8" cy="287.8" rx="3" ry="3" fill="none" stroke="#ff0000" stroke-width="1.22"/>
<path d="M591.8 284.62V290.98M588.8 284.62H594.8M588.8 290.98H594.8" stroke="#ff0000" stroke-width="1.3" fill="none"/>
<ellipse cx="608.6" cy="285.97" rx="3" ry="3" fill="none" stroke="#ff0000" stroke-width="1.22"/>
<path d="M608.6 283.19V288.76M605.6 283.19H611.6M605.6 288.76H611.6" stroke="#ff0000" stroke-width="1.3" fill="none"/>
<ellipse cx="625.4" cy="283.43" rx="3" ry="3" fill="none" stroke="#ff0000" stroke-width="1.22"/>
<path d="M625.4 277.79V288.84M622.4 277.79H628.4M622.4 288.84H628.4" stroke="#ff0000" stroke-width="1.3" fill="none"/>
<ellipse cx="642.2" cy="285.97" rx="3" ry="3" fill="none" stroke="#ff0000" stroke-width="1.22"/>
<path d="M642.2 283.59V288.36M639.2 283.59H645.2M639.2 288.36H645.2" stroke="#ff0000" stroke-width="1.3" fill="none"/>
<ellipse cx="659" cy="286.21" rx="3" ry="3" fill="none" stroke="#ff0000" stroke-width="1.22"/>
<path d="M659 283.43V289M656 283.43H662M656 289H662" stroke="#ff0000" stroke-width="1.3" fill="none"/>
<ellipse cx="675.8" cy="286.53" rx="3" ry="3" fill="none" stroke="#ff0000" stroke-width="1.22"/>
<path d="M675.8 283.35V289.71M672.8 283.35H678.8M672.8 289.71H678.8" stroke="#ff0000" stroke-width="1.3" fill="none"/>
<text x="367.5" y="206.3" font-size="15.3">d</text>
<text x="388" y="207.8" font-size="15.0" textLength="232.7" lengthAdjust="spacingAndGlyphs">Stores in higher college grad. rates,</text>
<text x="388" y="227.8" font-size="15.0" textLength="88.8" lengthAdjust="spacingAndGlyphs">3% threshold</text>
<path d="M34.7 517.6H335.32M34.7 510.7H335.32M34.7 503.8H335.32M34.7 496.9H335.32M34.7 490H335.32M34.7 483.1H335.32M34.7 476.2H335.32M34.7 469.3H335.32M34.7 462.4H335.32M34.7 455.5H335.32M34.7 448.6H335.32M34.7 441.7H335.32M34.7 434.8H335.32M34.7 427.9H335.32M34.7 421H335.32" stroke="#b2b2b2" stroke-width="1.0" stroke-dasharray="1.0 3.44" fill="none"/>
<path d="M34.7 469.3H335.32" stroke="#a0a0a0" stroke-width="1.3" stroke-dasharray="11.1 5.5" fill="none"/>
<path d="M224.55 405.6V533" stroke="#ff9933" stroke-width="1.3" stroke-dasharray="11.0 5.6" fill="none"/>
<path d="M34.7 414.1V524.5M29.9 524.5H34.7M29.9 517.6H34.7M29.9 510.7H34.7M29.9 503.8H34.7M29.9 496.9H34.7M29.9 490H34.7M29.9 483.1H34.7M29.9 476.2H34.7M29.9 469.3H34.7M29.9 462.4H34.7M29.9 455.5H34.7M29.9 448.6H34.7M29.9 441.7H34.7M29.9 434.8H34.7M29.9 427.9H34.7M29.9 421H34.7M29.9 414.1H34.7" stroke="#a2a2a2" stroke-width="1.25" fill="none" stroke-linecap="square"/>
<text transform="translate(27 527.03) scale(1 1.05)" font-size="6.8" text-anchor="end" stroke="#000" stroke-width="0.08">8</text>
<rect x="18.37" y="525.28" width="4.1" height="0.85" fill="#333"/>
<text transform="translate(27 520.13) scale(1 1.05)" font-size="6.8" text-anchor="end" stroke="#000" stroke-width="0.08">7</text>
<rect x="18.37" y="518.38" width="4.1" height="0.85" fill="#333"/>
<text transform="translate(27 513.23) scale(1 1.05)" font-size="6.8" text-anchor="end" stroke="#000" stroke-width="0.08">6</text>
<rect x="18.37" y="511.48" width="4.1" height="0.85" fill="#333"/>
<text transform="translate(27 506.33) scale(1 1.05)" font-size="6.8" text-anchor="end" stroke="#000" stroke-width="0.08">5</text>
<rect x="18.37" y="504.58" width="4.1" height="0.85" fill="#333"/>
<text transform="translate(27 499.43) scale(1 1.05)" font-size="6.8" text-anchor="end" stroke="#000" stroke-width="0.08">4</text>
<rect x="18.37" y="497.68" width="4.1" height="0.85" fill="#333"/>
<text transform="translate(27 492.53) scale(1 1.05)" font-size="6.8" text-anchor="end" stroke="#000" stroke-width="0.08">3</text>
<rect x="18.37" y="490.78" width="4.1" height="0.85" fill="#333"/>
<text transform="translate(27 485.63) scale(1 1.05)" font-size="6.8" text-anchor="end" stroke="#000" stroke-width="0.08">2</text>
<rect x="18.37" y="483.88" width="4.1" height="0.85" fill="#333"/>
<text transform="translate(27 478.73) scale(1 1.05)" font-size="6.8" text-anchor="end" stroke="#000" stroke-width="0.08">1</text>
<rect x="18.37" y="476.98" width="4.1" height="0.85" fill="#333"/>
<text transform="translate(27 471.83) scale(1 1.05)" font-size="6.8" text-anchor="end" stroke="#000" stroke-width="0.08">0</text>
<text transform="translate(27 464.93) scale(1 1.05)" font-size="6.8" text-anchor="end" stroke="#000" stroke-width="0.08">1</text>
<text transform="translate(27 458.03) scale(1 1.05)" font-size="6.8" text-anchor="end" stroke="#000" stroke-width="0.08">2</text>
<text transform="translate(27 451.13) scale(1 1.05)" font-size="6.8" text-anchor="end" stroke="#000" stroke-width="0.08">3</text>
<text transform="translate(27 444.23) scale(1 1.05)" font-size="6.8" text-anchor="end" stroke="#000" stroke-width="0.08">4</text>
<text transform="translate(27 437.33) scale(1 1.05)" font-size="6.8" text-anchor="end" stroke="#000" stroke-width="0.08">5</text>
<text transform="translate(27 430.43) scale(1 1.05)" font-size="6.8" text-anchor="end" stroke="#000" stroke-width="0.08">6</text>
<text transform="translate(27 423.53) scale(1 1.05)" font-size="6.8" text-anchor="end" stroke="#000" stroke-width="0.08">7</text>
<text transform="translate(27 416.63) scale(1 1.05)" font-size="6.8" text-anchor="end" stroke="#000" stroke-width="0.08">8</text>
<path d="M42.65 533H327.41M42.65 533V537.5M58.47 533V537.5M74.29 533V537.5M90.11 533V537.5M105.93 533V537.5M121.75 533V537.5M137.57 533V537.5M153.39 533V537.5M169.21 533V537.5M185.03 533V537.5M200.85 533V537.5M216.67 533V537.5M232.49 533V537.5M248.31 533V537.5M264.13 533V537.5M279.95 533V537.5M295.77 533V537.5M311.59 533V537.5M327.41 533V537.5" stroke="#a2a2a2" stroke-width="1.25" fill="none" stroke-linecap="square"/>
<text x="42.65" y="545.9" font-size="7.7" text-anchor="middle">L13</text>
<text x="58.47" y="545.9" font-size="7.7" text-anchor="middle">L12</text>
<text x="74.29" y="545.9" font-size="7.7" text-anchor="middle">L11</text>
<text x="90.11" y="545.9" font-size="7.7" text-anchor="middle">L10</text>
<text x="105.93" y="545.9" font-size="7.7" text-anchor="middle">L9</text>
<text x="121.75" y="545.9" font-size="7.7" text-anchor="middle">L8</text>
<text x="137.57" y="545.9" font-size="7.7" text-anchor="middle">L7</text>
<text x="153.39" y="545.9" font-size="7.7" text-anchor="middle">L6</text>
<text x="169.21" y="545.9" font-size="7.7" text-anchor="middle">L5</text>
<text x="185.03" y="545.9" font-size="7.7" text-anchor="middle">L4</text>
<text x="200.85" y="545.9" font-size="7.7" text-anchor="middle">L3</text>
<text x="216.67" y="545.9" font-size="7.7" text-anchor="middle">L2</text>
<text x="232.49" y="545.9" font-size="7.7" text-anchor="middle">D0</text>
<text x="248.31" y="545.9" font-size="7.7" text-anchor="middle">D1</text>
<text x="264.13" y="545.9" font-size="7.7" text-anchor="middle">D2</text>
<text x="279.95" y="545.9" font-size="7.7" text-anchor="middle">D3</text>
<text x="295.77" y="545.9" font-size="7.7" text-anchor="middle">D4</text>
<text x="311.59" y="545.9" font-size="7.7" text-anchor="middle">D5</text>
<text x="327.41" y="545.9" font-size="7.7" text-anchor="middle">D6</text>
<ellipse cx="42.65" cy="473.37" rx="3.05" ry="2.62" fill="none" stroke="#0000ff" stroke-width="1.22"/>
<path d="M42.65 468.61V477.3M39.65 468.61H45.65M39.65 477.3H45.65" stroke="#0000ff" stroke-width="1.3" fill="none"/>
<ellipse cx="58.47" cy="469.02" rx="3.05" ry="2.62" fill="none" stroke="#0000ff" stroke-width="1.22"/>
<path d="M58.47 465.57V472.2M55.47 465.57H61.47M55.47 472.2H61.47" stroke="#0000ff" stroke-width="1.3" fill="none"/>
<ellipse cx="74.29" cy="473.99" rx="3.05" ry="2.62" fill="none" stroke="#0000ff" stroke-width="1.22"/>
<path d="M74.29 465.37V482.41M71.29 465.37H77.29M71.29 482.41H77.29" stroke="#0000ff" stroke-width="1.3" fill="none"/>
<ellipse cx="90.11" cy="469.71" rx="3.05" ry="2.62" fill="none" stroke="#0000ff" stroke-width="1.22"/>
<path d="M90.11 466.68V472.89M87.11 466.68H93.11M87.11 472.89H93.11" stroke="#0000ff" stroke-width="1.3" fill="none"/>
<ellipse cx="105.93" cy="471.92" rx="3.05" ry="2.62" fill="none" stroke="#0000ff" stroke-width="1.22"/>
<path d="M105.93 468.13V476.27M102.93 468.13H108.93M102.93 476.27H108.93" stroke="#0000ff" stroke-width="1.3" fill="none"/>
<ellipse cx="121.75" cy="472.47" rx="3.05" ry="2.62" fill="none" stroke="#0000ff" stroke-width="1.22"/>
<path d="M121.75 468.61V476.89M118.75 468.61H124.75M118.75 476.89H124.75" stroke="#0000ff" stroke-width="1.3" fill="none"/>
<ellipse cx="137.57" cy="471.23" rx="3.05" ry="2.62" fill="none" stroke="#0000ff" stroke-width="1.22"/>
<path d="M137.57 467.78V474.82M134.57 467.78H140.57M134.57 474.82H140.57" stroke="#0000ff" stroke-width="1.3" fill="none"/>
<ellipse cx="153.39" cy="472.89" rx="3.05" ry="2.62" fill="none" stroke="#0000ff" stroke-width="1.22"/>
<path d="M153.39 468.89V476.89M150.39 468.89H156.39M150.39 476.89H156.39" stroke="#0000ff" stroke-width="1.3" fill="none"/>
<ellipse cx="169.21" cy="467.51" rx="3.05" ry="2.62" fill="none" stroke="#0000ff" stroke-width="1.22"/>
<path d="M169.21 466.19V468.82M166.21 466.19H172.21M166.21 468.82H172.21" stroke="#0000ff" stroke-width="1.3" fill="none"/>
<ellipse cx="185.03" cy="472.89" rx="3.05" ry="2.62" fill="none" stroke="#0000ff" stroke-width="1.22"/>
<path d="M185.03 466.13V479.79M182.03 466.13H188.03M182.03 479.79H188.03" stroke="#0000ff" stroke-width="1.3" fill="none"/>
<ellipse cx="200.85" cy="472.2" rx="3.05" ry="2.62" fill="none" stroke="#0000ff" stroke-width="1.22"/>
<path d="M200.85 469.3V475.1M197.85 469.3H203.85M197.85 475.1H203.85" stroke="#0000ff" stroke-width="1.3" fill="none"/>
<ellipse cx="216.67" cy="473.99" rx="3.05" ry="2.62" fill="none" stroke="#0000ff" stroke-width="1.22"/>
<path d="M216.67 469.3V478.27M213.67 469.3H219.67M213.67 478.27H219.67" stroke="#0000ff" stroke-width="1.3" fill="none"/>
<ellipse cx="232.49" cy="470.2" rx="3.05" ry="2.62" fill="none" stroke="#0000ff" stroke-width="1.22"/>
<path d="M232.49 427.56V512.08M229.49 427.56H235.49M229.49 512.08H235.49" stroke="#0000ff" stroke-width="1.3" fill="none"/>
<ellipse cx="248.31" cy="476.41" rx="3.05" ry="2.62" fill="none" stroke="#0000ff" stroke-width="1.22"/>
<path d="M248.31 457.43V494.76M245.31 457.43H251.31M245.31 494.76H251.31" stroke="#0000ff" stroke-width="1.3" fill="none"/>
<ellipse cx="264.13" cy="474.82" rx="3.05" ry="2.62" fill="none" stroke="#0000ff" stroke-width="1.22"/>
<path d="M264.13 455.36V494.35M261.13 455.36H267.13M261.13 494.35H267.13" stroke="#0000ff" stroke-width="1.3" fill="none"/>
<ellipse cx="279.95" cy="478.41" rx="3.05" ry="2.62" fill="none" stroke="#0000ff" stroke-width="1.22"/>
<path d="M279.95 472.68V484.07M276.95 472.68H282.95M276.95 484.07H282.95" stroke="#0000ff" stroke-width="1.3" fill="none"/>
<ellipse cx="295.77" cy="474.82" rx="3.05" ry="2.62" fill="none" stroke="#0000ff" stroke-width="1.22"/>
<path d="M295.77 455.02V494.76M292.77 455.02H298.77M292.77 494.76H298.77" stroke="#0000ff" stroke-width="1.3" fill="none"/>
<ellipse cx="311.59" cy="474.82" rx="3.05" ry="2.62" fill="none" stroke="#0000ff" stroke-width="1.22"/>
<path d="M311.59 455.02V494.76M308.59 455.02H314.59M308.59 494.76H314.59" stroke="#0000ff" stroke-width="1.3" fill="none"/>
<ellipse cx="327.41" cy="475.23" rx="3.05" ry="2.62" fill="none" stroke="#0000ff" stroke-width="1.22"/>
<path d="M327.41 456.19V493.8M324.41 456.19H330.41M324.41 493.8H330.41" stroke="#0000ff" stroke-width="1.3" fill="none"/>
<text x="37.4" y="399.1" font-size="15.3">e</text>
<text x="63.5" y="400.6" font-size="15.0" textLength="226.3" lengthAdjust="spacingAndGlyphs">Stores in lower college grad. rates,</text>
<text x="63.5" y="420.4" font-size="15.0" textLength="89.2" lengthAdjust="spacingAndGlyphs">1% threshold</text>
<text transform="translate(8.2 469.3) rotate(-90)" font-size="10" text-anchor="middle" textLength="97" lengthAdjust="spacingAndGlyphs">Estimated Coefficients</text>
<text x="185.01" y="559.7" font-size="7.7" text-anchor="middle" textLength="94.6" lengthAdjust="spacingAndGlyphs"># Days since policy change</text>
<path d="M364.8 517.5H684.33M364.8 510.6H684.33M364.8 503.7H684.33M364.8 496.8H684.33M364.8 489.9H684.33M364.8 483H684.33M364.8 476.1H684.33M364.8 469.2H684.33M364.8 462.3H684.33M364.8 455.4H684.33M364.8 448.5H684.33M364.8 441.6H684.33M364.8 434.7H684.33M364.8 427.8H684.33M364.8 420.9H684.33" stroke="#b2b2b2" stroke-width="1.0" stroke-dasharray="1.0 3.44" fill="none"/>
<path d="M364.8 469.2H684.33" stroke="#a0a0a0" stroke-width="1.3" stroke-dasharray="11.1 5.5" fill="none"/>
<path d="M577.7 405.8V533.1" stroke="#ff9933" stroke-width="1.3" stroke-dasharray="11.0 5.6" fill="none"/>
<path d="M364.8 414V524.4M360 524.4H364.8M360 517.5H364.8M360 510.6H364.8M360 503.7H364.8M360 496.8H364.8M360 489.9H364.8M360 483H364.8M360 476.1H364.8M360 469.2H364.8M360 462.3H364.8M360 455.4H364.8M360 448.5H364.8M360 441.6H364.8M360 434.7H364.8M360 427.8H364.8M360 420.9H364.8M360 414H364.8" stroke="#a2a2a2" stroke-width="1.25" fill="none" stroke-linecap="square"/>
<text transform="translate(357.1 526.93) scale(1 1.05)" font-size="6.8" text-anchor="end" stroke="#000" stroke-width="0.08">8</text>
<rect x="348.47" y="525.18" width="4.1" height="0.85" fill="#333"/>
<text transform="translate(357.1 520.03) scale(1 1.05)" font-size="6.8" text-anchor="end" stroke="#000" stroke-width="0.08">7</text>
<rect x="348.47" y="518.28" width="4.1" height="0.85" fill="#333"/>
<text transform="translate(357.1 513.13) scale(1 1.05)" font-size="6.8" text-anchor="end" stroke="#000" stroke-width="0.08">6</text>
<rect x="348.47" y="511.38" width="4.1" height="0.85" fill="#333"/>
<text transform="translate(357.1 506.23) scale(1 1.05)" font-size="6.8" text-anchor="end" stroke="#000" stroke-width="0.08">5</text>
<rect x="348.47" y="504.48" width="4.1" height="0.85" fill="#333"/>
<text transform="translate(357.1 499.33) scale(1 1.05)" font-size="6.8" text-anchor="end" stroke="#000" stroke-width="0.08">4</text>
<rect x="348.47" y="497.58" width="4.1" height="0.85" fill="#333"/>
<text transform="translate(357.1 492.43) scale(1 1.05)" font-size="6.8" text-anchor="end" stroke="#000" stroke-width="0.08">3</text>
<rect x="348.47" y="490.68" width="4.1" height="0.85" fill="#333"/>
<text transform="translate(357.1 485.53) scale(1 1.05)" font-size="6.8" text-anchor="end" stroke="#000" stroke-width="0.08">2</text>
<rect x="348.47" y="483.78" width="4.1" height="0.85" fill="#333"/>
<text transform="translate(357.1 478.63) scale(1 1.05)" font-size="6.8" text-anchor="end" stroke="#000" stroke-width="0.08">1</text>
<rect x="348.47" y="476.88" width="4.1" height="0.85" fill="#333"/>
<text transform="translate(357.1 471.73) scale(1 1.05)" font-size="6.8" text-anchor="end" stroke="#000" stroke-width="0.08">0</text>
<text transform="translate(357.1 464.83) scale(1 1.05)" font-size="6.8" text-anchor="end" stroke="#000" stroke-width="0.08">1</text>
<text transform="translate(357.1 457.93) scale(1 1.05)" font-size="6.8" text-anchor="end" stroke="#000" stroke-width="0.08">2</text>
<text transform="translate(357.1 451.03) scale(1 1.05)" font-size="6.8" text-anchor="end" stroke="#000" stroke-width="0.08">3</text>
<text transform="translate(357.1 444.13) scale(1 1.05)" font-size="6.8" text-anchor="end" stroke="#000" stroke-width="0.08">4</text>
<text transform="translate(357.1 437.23) scale(1 1.05)" font-size="6.8" text-anchor="end" stroke="#000" stroke-width="0.08">5</text>
<text transform="translate(357.1 430.33) scale(1 1.05)" font-size="6.8" text-anchor="end" stroke="#000" stroke-width="0.08">6</text>
<text transform="translate(357.1 423.43) scale(1 1.05)" font-size="6.8" text-anchor="end" stroke="#000" stroke-width="0.08">7</text>
<text transform="translate(357.1 416.53) scale(1 1.05)" font-size="6.8" text-anchor="end" stroke="#000" stroke-width="0.08">8</text>
<path d="M373.7 533.1H675.45M373.7 533.1V537.6M391.45 533.1V537.6M409.2 533.1V537.6M426.95 533.1V537.6M444.7 533.1V537.6M462.45 533.1V537.6M480.2 533.1V537.6M497.95 533.1V537.6M515.7 533.1V537.6M533.45 533.1V537.6M551.2 533.1V537.6M568.95 533.1V537.6M586.7 533.1V537.6M604.45 533.1V537.6M622.2 533.1V537.6M639.95 533.1V537.6M657.7 533.1V537.6M675.45 533.1V537.6" stroke="#a2a2a2" stroke-width="1.25" fill="none" stroke-linecap="square"/>
<text x="373.7" y="546" font-size="7.7" text-anchor="middle">L13</text>
<text x="391.45" y="546" font-size="7.7" text-anchor="middle">L12</text>
<text x="409.2" y="546" font-size="7.7" text-anchor="middle">L11</text>
<text x="426.95" y="546" font-size="7.7" text-anchor="middle">L10</text>
<text x="444.7" y="546" font-size="7.7" text-anchor="middle">L9</text>
<text x="462.45" y="546" font-size="7.7" text-anchor="middle">L8</text>
<text x="480.2" y="546" font-size="7.7" text-anchor="middle">L7</text>
<text x="497.95" y="546" font-size="7.7" text-anchor="middle">L6</text>
<text x="515.7" y="546" font-size="7.7" text-anchor="middle">L5</text>
<text x="533.45" y="546" font-size="7.7" text-anchor="middle">L4</text>
<text x="551.2" y="546" font-size="7.7" text-anchor="middle">L3</text>
<text x="568.95" y="546" font-size="7.7" text-anchor="middle">L2</text>
<text x="586.7" y="546" font-size="7.7" text-anchor="middle">D1</text>
<text x="604.45" y="546" font-size="7.7" text-anchor="middle">D2</text>
<text x="622.2" y="546" font-size="7.7" text-anchor="middle">D3</text>
<text x="639.95" y="546" font-size="7.7" text-anchor="middle">D4</text>
<text x="657.7" y="546" font-size="7.7" text-anchor="middle">D5</text>
<text x="675.45" y="546" font-size="7.7" text-anchor="middle">D6</text>
<ellipse cx="373.7" cy="472.37" rx="3.05" ry="2.62" fill="none" stroke="#0000ff" stroke-width="1.22"/>
<path d="M373.7 448.71V496.52M370.7 448.71H376.7M370.7 496.52H376.7" stroke="#0000ff" stroke-width="1.3" fill="none"/>
<ellipse cx="391.45" cy="468.51" rx="3.05" ry="2.62" fill="none" stroke="#0000ff" stroke-width="1.22"/>
<path d="M391.45 445.19V492.38M388.45 445.19H394.45M388.45 492.38H394.45" stroke="#0000ff" stroke-width="1.3" fill="none"/>
<ellipse cx="409.2" cy="473.27" rx="3.05" ry="2.62" fill="none" stroke="#0000ff" stroke-width="1.22"/>
<path d="M409.2 444.08V502.73M406.2 444.08H412.2M406.2 502.73H412.2" stroke="#0000ff" stroke-width="1.3" fill="none"/>
<ellipse cx="426.95" cy="469.41" rx="3.05" ry="2.62" fill="none" stroke="#0000ff" stroke-width="1.22"/>
<path d="M426.95 446.22V492.87M423.95 446.22H429.95M423.95 492.87H429.95" stroke="#0000ff" stroke-width="1.3" fill="none"/>
<ellipse cx="444.7" cy="471.48" rx="3.05" ry="2.62" fill="none" stroke="#0000ff" stroke-width="1.22"/>
<path d="M444.7 447.53V496.11M441.7 447.53H447.7M441.7 496.11H447.7" stroke="#0000ff" stroke-width="1.3" fill="none"/>
<ellipse cx="462.45" cy="472.37" rx="3.05" ry="2.62" fill="none" stroke="#0000ff" stroke-width="1.22"/>
<path d="M462.45 448.43V496.11M459.45 448.43H465.45M459.45 496.11H465.45" stroke="#0000ff" stroke-width="1.3" fill="none"/>
<ellipse cx="480.2" cy="470.99" rx="3.05" ry="2.62" fill="none" stroke="#0000ff" stroke-width="1.22"/>
<path d="M480.2 449.6V492.38M477.2 449.6H483.2M477.2 492.38H483.2" stroke="#0000ff" stroke-width="1.3" fill="none"/>
<ellipse cx="497.95" cy="472.37" rx="3.05" ry="2.62" fill="none" stroke="#0000ff" stroke-width="1.22"/>
<path d="M497.95 448.02V496.52M494.95 448.02H500.95M494.95 496.52H500.95" stroke="#0000ff" stroke-width="1.3" fill="none"/>
<ellipse cx="515.7" cy="467.41" rx="3.05" ry="2.62" fill="none" stroke="#0000ff" stroke-width="1.22"/>
<path d="M515.7 445.39V489.28M512.7 445.39H518.7M512.7 489.28H518.7" stroke="#0000ff" stroke-width="1.3" fill="none"/>
<ellipse cx="533.45" cy="472.37" rx="3.05" ry="2.62" fill="none" stroke="#0000ff" stroke-width="1.22"/>
<path d="M533.45 444.5V500.39M530.45 444.5H536.45M530.45 500.39H536.45" stroke="#0000ff" stroke-width="1.3" fill="none"/>
<ellipse cx="551.2" cy="471.48" rx="3.05" ry="2.62" fill="none" stroke="#0000ff" stroke-width="1.22"/>
<path d="M551.2 449.6V493.35M548.2 449.6H554.2M548.2 493.35H554.2" stroke="#0000ff" stroke-width="1.3" fill="none"/>
<ellipse cx="568.95" cy="473.27" rx="3.05" ry="2.62" fill="none" stroke="#0000ff" stroke-width="1.22"/>
<path d="M568.95 448.02V498.8M565.95 448.02H571.95M565.95 498.8H571.95" stroke="#0000ff" stroke-width="1.3" fill="none"/>
<ellipse cx="586.7" cy="475.89" rx="3.05" ry="2.62" fill="none" stroke="#0000ff" stroke-width="1.22"/>
<path d="M586.7 471.13V479.89M583.7 471.13H589.7M583.7 479.89H589.7" stroke="#0000ff" stroke-width="1.3" fill="none"/>
<ellipse cx="604.45" cy="474.31" rx="3.05" ry="2.62" fill="none" stroke="#0000ff" stroke-width="1.22"/>
<path d="M604.45 470.3V477.89M601.45 470.3H607.45M601.45 477.89H607.45" stroke="#0000ff" stroke-width="1.3" fill="none"/>
<ellipse cx="622.2" cy="478.03" rx="3.05" ry="2.62" fill="none" stroke="#0000ff" stroke-width="1.22"/>
<path d="M622.2 460.23V496.11M619.2 460.23H625.2M619.2 496.11H625.2" stroke="#0000ff" stroke-width="1.3" fill="none"/>
<ellipse cx="639.95" cy="474.31" rx="3.05" ry="2.62" fill="none" stroke="#0000ff" stroke-width="1.22"/>
<path d="M639.95 470.93V477.48M636.95 470.93H642.95M636.95 477.48H642.95" stroke="#0000ff" stroke-width="1.3" fill="none"/>
<ellipse cx="657.7" cy="474.31" rx="3.05" ry="2.62" fill="none" stroke="#0000ff" stroke-width="1.22"/>
<path d="M657.7 470.93V477.48M654.7 470.93H660.7M654.7 477.48H660.7" stroke="#0000ff" stroke-width="1.3" fill="none"/>
<ellipse cx="675.45" cy="474.79" rx="3.05" ry="2.62" fill="none" stroke="#0000ff" stroke-width="1.22"/>
<path d="M675.45 470.58V478.72M672.45 470.58H678.45M672.45 478.72H678.45" stroke="#0000ff" stroke-width="1.3" fill="none"/>
<text x="367.3" y="399.1" font-size="15.3">f</text>
<text x="388" y="396.4" font-size="15.0" textLength="226.2" lengthAdjust="spacingAndGlyphs">Stores in lower college grad. rates,</text>
<text x="388" y="416.3" font-size="15.0" textLength="88.8" lengthAdjust="spacingAndGlyphs">3% threshold</text>
<text x="524.56" y="559.7" font-size="7.7" text-anchor="middle" textLength="94.6" lengthAdjust="spacingAndGlyphs"># Days since policy change</text>
</svg>
</body></html>
